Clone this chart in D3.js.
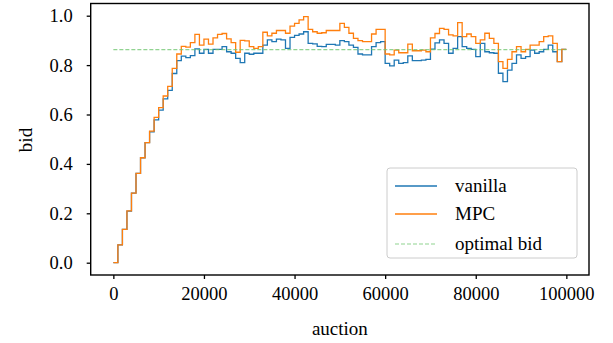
<!DOCTYPE html>
<html><head><meta charset="utf-8">
<script src="https://cdn.jsdelivr.net/npm/d3@7"></script>
<style>body{margin:0;background:#fff}svg{display:block}svg text{font-family:"Liberation Serif","Times New Roman",serif !important;fill:#000}</style>
</head><body><svg id="c" width="613" height="343"></svg>
<script>
const binSize = 1000;
const vanilla = [0,0.072,0.135,0.209,0.282,0.362,0.425,0.486,0.530,0.578,
0.618,0.663,0.698,0.766,0.818,0.836,0.830,0.838,0.866,0.848,
0.864,0.848,0.864,0.864,0.875,0.854,0.848,0.827,0.810,0.848,
0.844,0.848,0.848,0.881,0.902,0.895,0.905,0.902,0.868,0.912,
0.920,0.926,0.935,0.888,0.886,0.876,0.875,0.884,0.884,0.881,
0.899,0.895,0.881,0.872,0.845,0.841,0.841,0.875,0.891,0.895,
0.807,0.797,0.820,0.807,0.810,0.837,0.818,0.818,0.820,0.823,
0.865,0.890,0.902,0.888,0.848,0.868,0.915,0.875,0.868,0.864,
0.834,0.888,0.854,0.850,0.848,0.767,0.733,0.780,0.807,0.841,
0.827,0.834,0.861,0.848,0.854,0.864,0.881,0.854,0.814,0.864];
const mpc = [0,0.072,0.135,0.210,0.282,0.362,0.425,0.486,0.533,0.588,
0.628,0.675,0.714,0.787,0.845,0.876,0.873,0.891,0.924,0.881,
0.905,0.885,0.910,0.924,0.928,0.906,0.891,0.852,0.900,0.898,
0.875,0.868,0.875,0.933,0.918,0.929,0.940,0.940,0.929,0.958,
0.969,0.983,0.996,0.945,0.935,0.929,0.931,0.940,0.940,0.940,
0.969,0.953,0.929,0.908,0.899,0.895,0.895,0.926,0.945,0.945,
0.845,0.841,0.861,0.850,0.850,0.885,0.858,0.858,0.861,0.854,
0.910,0.928,0.949,0.945,0.922,0.918,0.972,0.915,0.926,0.915,
0.888,0.902,0.929,0.908,0.888,0.814,0.787,0.823,0.854,0.875,
0.854,0.864,0.881,0.881,0.895,0.915,0.918,0.888,0.814,0.864];
const optimalBid = 0.863;
const optimalRange = [0, 100000];
const xTicks = [0,20000,40000,60000,80000,100000];
const yTicks = [0.0,0.2,0.4,0.6,0.8,1.0];
const legendLabels = ["vanilla","MPC","optimal bid"];
const colors = ["#1f77b4","#ff7f0e","#6cc46c"];

const svg = d3.select("#c");
const L=90.7, R=589, T=3.5, B=275;
const x = d3.scaleLinear().domain([-5000,105000]).range([L,R]);
const y = d3.scaleLinear().domain([0,1]).range([262.7,15.7]);

function toPts(arr){
  const p = arr.map((v,i)=>[i*binSize, v]);
  p.push([arr.length*binSize, arr[arr.length-1]]);
  return p;
}
const line = d3.line().x(d=>x(d[0])).y(d=>y(d[1])).curve(d3.curveStepAfter);

const g = svg.append("g");
g.append("path").attr("d", line(toPts(vanilla))).attr("fill","none").attr("stroke",colors[0]).attr("stroke-width",1.3);
g.append("path").attr("d", line(toPts(mpc))).attr("fill","none").attr("stroke",colors[1]).attr("stroke-width",1.3);
g.append("path").attr("d", d3.line().x(d=>x(d)).y(()=>y(optimalBid))(optimalRange))
  .attr("fill","none").attr("stroke",colors[2]).attr("stroke-opacity",0.75).attr("stroke-width",1.2).attr("stroke-dasharray","4,2");

svg.append("rect").attr("x",L).attr("y",T).attr("width",R-L).attr("height",B-T)
  .attr("fill","none").attr("stroke","#000").attr("stroke-width",1.4);

const xa = svg.append("g").attr("transform",`translate(0,${B})`)
  .call(d3.axisBottom(x).tickValues(xTicks).tickFormat(d3.format("d")).tickSize(4).tickPadding(8));
const ya = svg.append("g").attr("transform",`translate(${L},0)`)
  .call(d3.axisLeft(y).tickValues(yTicks).tickFormat(d3.format(".1f")).tickSize(4).tickPadding(14));
[xa,ya].forEach(a=>{
  a.attr("font-family",null).attr("font-size",null);
  a.select(".domain").remove();
  a.selectAll("line").attr("stroke","#000").attr("stroke-width",1.3);
  a.selectAll("text").style("font-family","'Liberation Serif', serif").style("font-size","18.5px").attr("fill","#000");
});

svg.append("text").attr("x",(x(0)+x(100000))/2).attr("y",335).attr("text-anchor","middle").style("font-size","19px").text("auction");
svg.append("text").attr("transform","translate(31.5,140) rotate(-90)").attr("text-anchor","middle").style("font-size","19px").text("bid");

const lg = svg.append("g");
lg.append("rect").attr("x",387).attr("y",168).attr("width",190).attr("height",90).attr("rx",3)
  .attr("fill","#fff").attr("fill-opacity",0.8).attr("stroke","#cccccc").attr("stroke-width",1);
const rows=[186,214,244];
legendLabels.forEach((lab,i)=>{
  const l = lg.append("line").attr("x1",395).attr("x2",437).attr("y1",rows[i]).attr("y2",rows[i])
    .attr("stroke",colors[i]).attr("stroke-width",i<2?1.3:1.2);
  if(i===2) l.attr("stroke-opacity",0.75).attr("stroke-dasharray","4,2");
  lg.append("text").attr("x",455).attr("y",rows[i]).attr("dy","0.33em").style("font-size","19px").text(lab);
});
</script></body></html>
